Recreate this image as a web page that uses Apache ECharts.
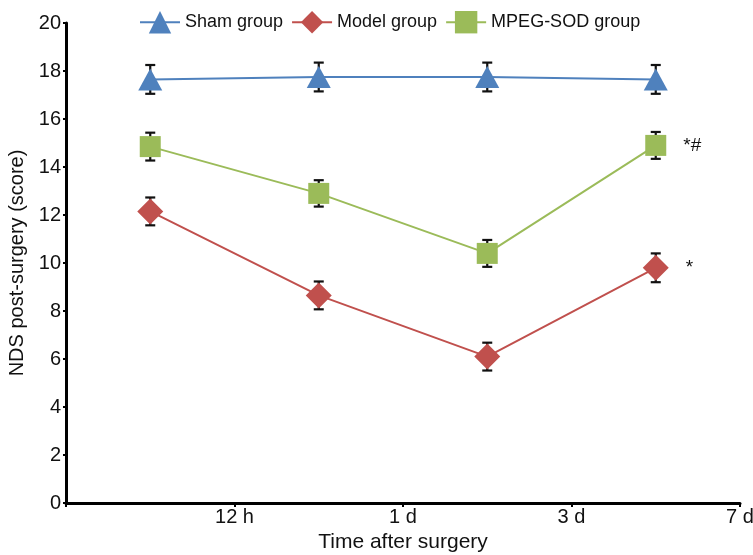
<!DOCTYPE html>
<html><head><meta charset="utf-8">
<script src="https://cdn.jsdelivr.net/npm/echarts@6/dist/echarts.min.js"></script>
<style>html,body{margin:0;padding:0;background:#fff}#c{width:753px;height:555px}</style>
</head><body><div id="c"></div>
<script>
const timepoints = ['t1', 't2', 't3', 't4'];
const tickLabels = ['12 h', '1 d', '3 d', '7 d'];
const shamMean = [17.65, 17.75, 17.75, 17.65];
const shamErr = [0.6, 0.6, 0.6, 0.6];
const modelMean = [12.15, 8.65, 6.1, 9.8];
const modelErr = [0.58, 0.58, 0.58, 0.6];
const mpegMean = [14.85, 12.9, 10.4, 14.9];
const mpegErr = [0.58, 0.55, 0.56, 0.56];
const modelNote = ['', '', '', '*'];
const mpegNote = ['', '', '', '*#'];
const yTicks = [0, 2, 4, 6, 8, 10, 12, 14, 16, 18, 20];

const FONT = '"Liberation Sans", Arial, Helvetica, sans-serif';
const colors = { sham: '#4F81BD', model: '#C0504D', mpeg: '#9BBB59' };

function errData(mean, err) {
  return mean.map((m, i) => [i, m - err[i], m + err[i]]);
}
function errSeries(mean, err) {
  return {
    type: 'custom',
    xAxisIndex: 0,
    yAxisIndex: 0,
    z: 1,
    silent: true,
    data: errData(mean, err),
    renderItem: function (params, api) {
      const lo = api.coord([api.value(0), api.value(1)]);
      const hi = api.coord([api.value(0), api.value(2)]);
      const cw = 5;
      const st = { stroke: '#111', lineWidth: 2.2 };
      return {
        type: 'group',
        children: [
          { type: 'line', shape: { x1: lo[0], y1: lo[1], x2: hi[0], y2: hi[1] }, style: st },
          { type: 'line', shape: { x1: hi[0] - cw, y1: hi[1], x2: hi[0] + cw, y2: hi[1] }, style: st },
          { type: 'line', shape: { x1: lo[0] - cw, y1: lo[1], x2: lo[0] + cw, y2: lo[1] }, style: st }
        ]
      };
    }
  };
}
function lineSeries(name, mean, color, symbol, size, notes) {
  return {
    name: name,
    type: 'line',
    xAxisIndex: 0,
    yAxisIndex: 0,
    z: 3,
    data: mean.map((v, i) => ({
      value: v,
      label: notes && notes[i] ? {
        show: true, position: 'right', distance: 17,
        formatter: notes[i], color: '#111', fontSize: 19, fontFamily: FONT
      } : { show: false }
    })),
    symbol: symbol,
    symbolSize: size,
    lineStyle: { color: color, width: 2 },
    itemStyle: { color: color, opacity: 1 },
    emphasis: { disabled: true }
  };
}

const chart = echarts.init(document.getElementById('c'), null, { renderer: 'canvas' });
chart.setOption({
  animation: false,
  backgroundColor: '#fff',
  grid: { left: 66, right: 13, top: 23, bottom: 52, containLabel: false, outerBoundsMode: 'none' },
  legend: {
    data: ['Sham group', 'Model group', 'MPEG-SOD group'],
    left: 139, top: 11, padding: 0,
    itemWidth: 40, itemHeight: 28, itemGap: 8,
    textStyle: { fontSize: 18, color: '#111', fontFamily: FONT }
  },
  xAxis: [
    {
      type: 'category', data: timepoints, boundaryGap: true, show: false
    },
    {
      type: 'value', min: 0, max: 4, interval: 1, position: 'bottom',
      name: 'Time after surgery', nameLocation: 'middle', nameGap: 27,
      nameTextStyle: { fontSize: 21, color: '#111', fontFamily: FONT },
      axisLine: { show: true, onZero: false, lineStyle: { color: '#000', width: 3 } },
      axisTick: { show: true, length: 4, lineStyle: { color: '#000', width: 2 } },
      splitLine: { show: false },
      axisLabel: {
        fontSize: 20, color: '#111', fontFamily: FONT, margin: 4,
        formatter: v => (v >= 1 ? tickLabels[Math.round(v) - 1] : '')
      }
    }
  ],
  yAxis: {
    type: 'value', min: yTicks[0], max: yTicks[yTicks.length - 1], interval: yTicks[1] - yTicks[0],
    name: 'NDS post-surgery (score)', nameLocation: 'middle', nameGap: 34,
    nameTextStyle: { fontSize: 20, color: '#111', fontFamily: FONT },
    axisLine: { show: true, lineStyle: { color: '#000', width: 3 } },
    axisTick: { show: true, length: 3, lineStyle: { color: '#000', width: 2 } },
    splitLine: { show: false },
    axisLabel: { fontSize: 20, color: '#111', fontFamily: FONT, margin: 5 }
  },
  series: [
    errSeries(shamMean, shamErr),
    errSeries(modelMean, modelErr),
    errSeries(mpegMean, mpegErr),
    lineSeries('Sham group', shamMean, colors.sham, 'triangle', [24, 22], null),
    lineSeries('Model group', modelMean, colors.model, 'diamond', [26, 26], modelNote),
    lineSeries('MPEG-SOD group', mpegMean, colors.mpeg, 'rect', [21, 21], mpegNote)
  ]
});
</script></body></html>
